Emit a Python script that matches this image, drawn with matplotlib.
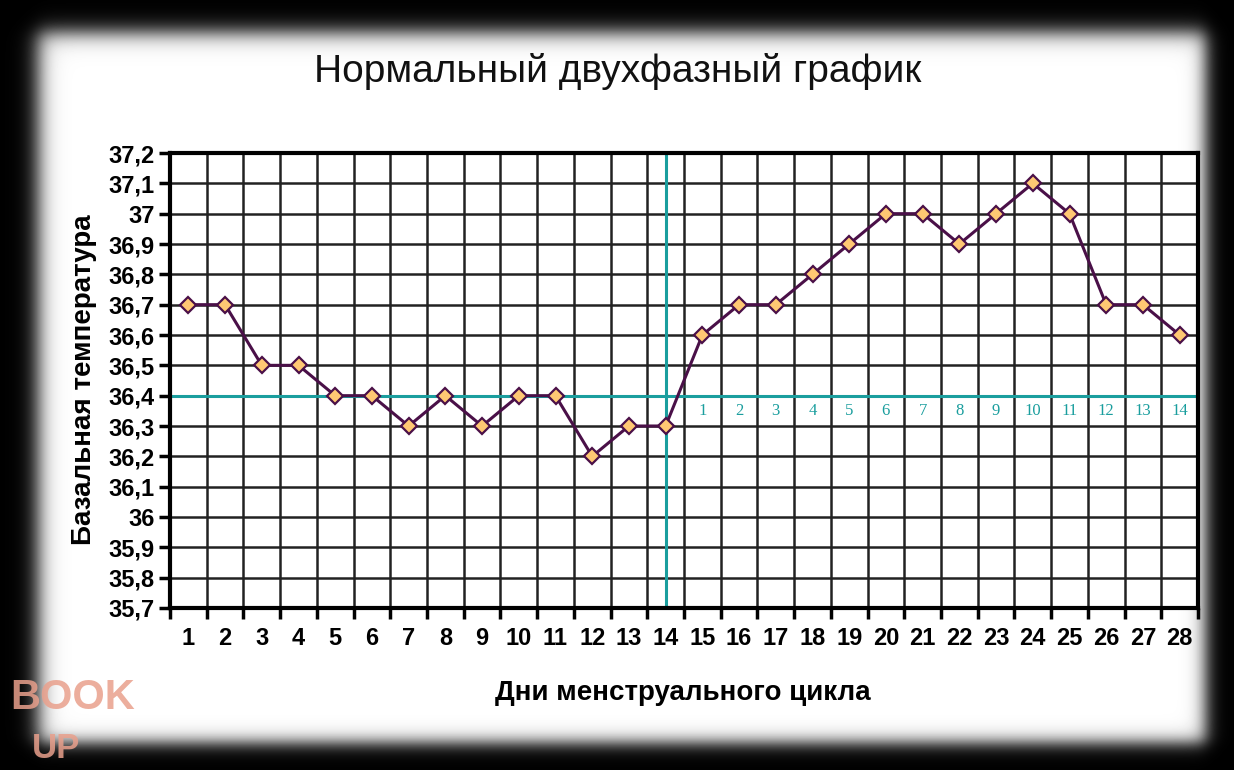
import numpy as np
import matplotlib
matplotlib.use("Agg")
import matplotlib.pyplot as plt

# ---- data ----
days = list(range(1, 29))
temps = [36.7, 36.7, 36.5, 36.5, 36.4, 36.4, 36.3, 36.4, 36.3, 36.4, 36.4, 36.2, 36.3, 36.3,
         36.6, 36.7, 36.7, 36.8, 36.9, 37.0, 37.0, 36.9, 37.0, 37.1, 37.0, 36.7, 36.7, 36.6]
y_ticks = [35.7, 35.8, 35.9, 36.0, 36.1, 36.2, 36.3, 36.4, 36.5, 36.6, 36.7, 36.8, 36.9, 37.0, 37.1, 37.2]
y_tick_labels = ["35,7", "35,8", "35,9", "36", "36,1", "36,2", "36,3", "36,4", "36,5", "36,6",
                 "36,7", "36,8", "36,9", "37", "37,1", "37,2"]
cover_line = 36.4
ovulation_day = 14
phase2_days = list(range(15, 29))
phase2_labels = [str(i) for i in range(1, 15)]
title = "Нормальный двухфазный график"
xlabel = "Дни менструального цикла"
ylabel = "Базальная температура"

W, H = 1234, 770
fig = plt.figure(figsize=(W / 100, H / 100), dpi=100)

# ---- vignette background ----
bg = fig.add_axes([0, 0, 1, 1], zorder=-5)
xx = np.arange(W)[None, :]
yy = np.arange(H)[:, None]
sig = lambda t: 1.0 / (1.0 + np.exp(-t))
fx = sig((xx - 38) / 6.0) * sig((1205 - xx) / 5.0)
fy = sig((yy - 32) / 6.0) * sig((742 - yy) / 5.0)
img = fx * fy
bg.imshow(img, cmap="gray", vmin=0, vmax=1, aspect="auto", interpolation="bilinear")
bg.set_axis_off()

# watermark
fig.text(10 / W, 1 - 698 / H, "BOOK", fontsize=30, fontweight="bold", color="#e9a08c",
         alpha=0.85, va="center", ha="left", family=["Liberation Sans", "DejaVu Sans"])
fig.text(32 / W, 1 - 749 / H, "UP", fontsize=25, fontweight="bold", color="#e9a08c",
         alpha=0.85, va="center", ha="left", family=["Liberation Sans", "DejaVu Sans"])

# ---- chart ----
ax = fig.add_axes([170 / W, 1 - 608 / H, 1028 / W, 455 / H])
ax.set_xlim(0.5, 28.5)
ax.set_ylim(35.7, 37.2)

# grid
for b in np.arange(1.5, 28.5, 1.0):
    ax.axvline(b, color="#222222", lw=1.8, zorder=1)
for t in y_ticks[1:-1]:
    ax.axhline(t, color="#222222", lw=1.8, zorder=1)

# cyan lines
cyan = "#1a9e9e"
ax.axhline(cover_line, color=cyan, lw=2.2, zorder=2)
ax.axvline(ovulation_day, color=cyan, lw=2.2, zorder=2)
for d, lab in zip(phase2_days, phase2_labels):
    ax.text(d, 36.35, lab, color=cyan, fontsize=12, ha="center", va="center",
            family=["Liberation Serif", "DejaVu Serif"], zorder=3,
            bbox=dict(facecolor="white", edgecolor="none", pad=0.5))

# data line
ax.plot(days, temps, color="#4a1048", lw=2.2, marker="D", markersize=8,
        markerfacecolor="#ffc873", markeredgecolor="#4a1048", markeredgewidth=1.6, zorder=4)

# axes styling
for s in ax.spines.values():
    s.set_linewidth(3)
    s.set_color("black")
ax.set_yticks(y_ticks)
ax.set_yticklabels(y_tick_labels)
ax.set_xticks(np.arange(0.5, 29.0, 1.0))
ax.set_xticklabels([])
ax.set_xticks(days, minor=True)
ax.set_xticklabels([str(d) for d in days], minor=True)
ax.tick_params(axis="x", which="major", length=8, width=2.5, direction="out")
ax.tick_params(axis="x", which="minor", length=0, pad=14, labelsize=17)
ax.tick_params(axis="y", length=8, width=2.5, direction="out", labelsize=17, pad=3)
for lab in ax.get_xticklabels(minor=True) + ax.get_yticklabels():
    lab.set_fontweight("bold")
    lab.set_family(["Liberation Sans Narrow", "Liberation Sans", "DejaVu Sans"])

fig.text(618 / W, 1 - 72 / H, title, fontsize=28, ha="center", va="center",
         family=["Liberation Sans", "DejaVu Sans"], color="#111111")
fig.text(683 / W, 1 - 693 / H, xlabel, fontsize=20, fontweight="bold", ha="center", va="center",
         family=["Liberation Sans Narrow", "Liberation Sans", "DejaVu Sans"])
fig.text(84 / W, 1 - 380 / H, ylabel, fontsize=20, fontweight="bold", ha="center", va="center",
         rotation=90, family=["Liberation Sans Narrow", "Liberation Sans", "DejaVu Sans"])

fig.savefig("out.png", dpi=100)
